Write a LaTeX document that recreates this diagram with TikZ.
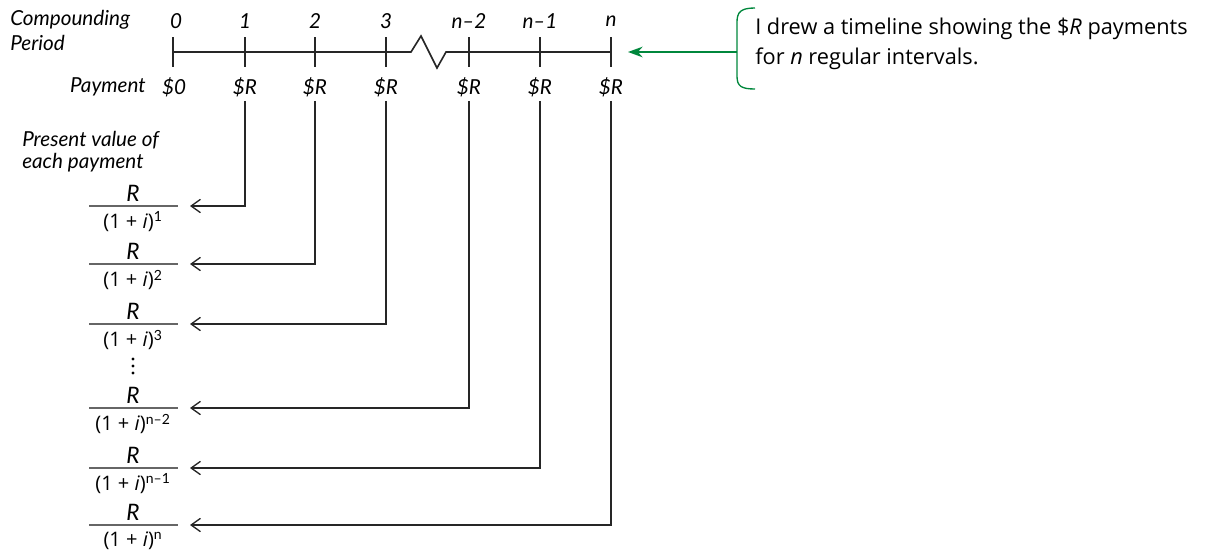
\documentclass[tikz,border=0pt]{standalone}
\usepackage{fontspec}
\setmainfont{Open Sans}
\newfontfamily\handfont{Lato}
\usetikzlibrary{arrows.meta}
\definecolor{ngreen}{RGB}{0,135,60}
\begin{document}
\begin{tikzpicture}[x=0.75pt,y=-0.75pt,
  hand/.style={font=\handfont\itshape\fontsize{15.5}{18}\selectfont, inner sep=0pt},
  numr/.style={font=\handfont\itshape\fontsize{17}{18}\selectfont, inner sep=0pt},
  axis/.style={line width=1.2pt, black!85},
  conn/.style={line width=1pt, black!85, -{Straight Barb[length=7pt,width=10pt,line width=1pt]}, shorten <=3pt},
  fbar/.style={line width=0.9pt, black!60},
  den/.style={font=\fontsize{15}{17}\selectfont, inner sep=0pt},
  gline/.style={line width=1pt, ngreen},
  note/.style={font=\fontsize{16.3}{22.5}\selectfont, inner sep=0pt, align=left, anchor=base west}]
\useasboundingbox (0,0) rectangle (1210,553);

% left labels
\node[hand, anchor=west] (cp) at (10,20) {Compounding};
\node[hand, anchor=west] (per) at (10,43) {Period};
\node[hand, anchor=east] (pay) at (146,87) {Payment};
\node[hand, anchor=west] (pv1) at (22,140) {Present value of};
\node[hand, anchor=west] (pv2) at (22,163) {each payment};

% timeline
\draw[axis] (173,52) -- (411,52) -- (421,36) -- (437,68) -- (446,52) -- (611,52);
\foreach \x in {173,245,315,386,469,540,611}
  \draw[axis] (\x,37) -- (\x,67);

% period labels and payments
\foreach \nm/\x/\lab in {0/176/0, 1/245/1, 2/315/2, 3/386/3, m2/469/{n\textendash2}, m1/540/{n\textendash1}, n/611/n}
  \node[hand] (t\nm) at (\x,21) {\lab};
\node[hand] (p0) at (174,87) {\$0};
\foreach \nm/\x in {1/245, 2/315, 3/386, m2/469, m1/540, n/611}
  \node[hand] (p\nm) at (\x,87) {\$R};

% fractions
\foreach \nm/\y/\e in {1/206/1, 2/264/2, 3/324/3, m2/408/{n\textendash2}, m1/468/{n\textendash1}, n/525/n}{
  \node[numr] (num\nm) at (133,\y-13) {R};
  \draw[fbar] (89,\y) -- (178,\y);
  \node[den] (den\nm) at (133,\y+16) {(1 + \textit{i})\textsuperscript{\handfont \e}};
  \coordinate (a\nm) at (190,\y);
}
\foreach \yy in {359,366,373}
  \fill (133,\yy) circle[radius=1.7];

% connectors
\foreach \nm in {1,2,3,m2,m1,n}
  \draw[conn] (p\nm.south) |- (a\nm);

% note
\node[note] (txt) at (755,64) {I drew a timeline showing the \$\textit{R} payments\\for \textit{n} regular intervals.};
\draw[gline] (755,8) .. controls (741,8) and (737,12) .. (737,22) -- (737,76) .. controls (737,86) and (741,89) .. (755,89);
\coordinate (bm) at (737,52);
\coordinate (ga) at (628,52);
\draw[gline, -{Stealth[length=11pt,width=8pt]}] (bm) -- (ga);
\end{tikzpicture}
\end{document}
